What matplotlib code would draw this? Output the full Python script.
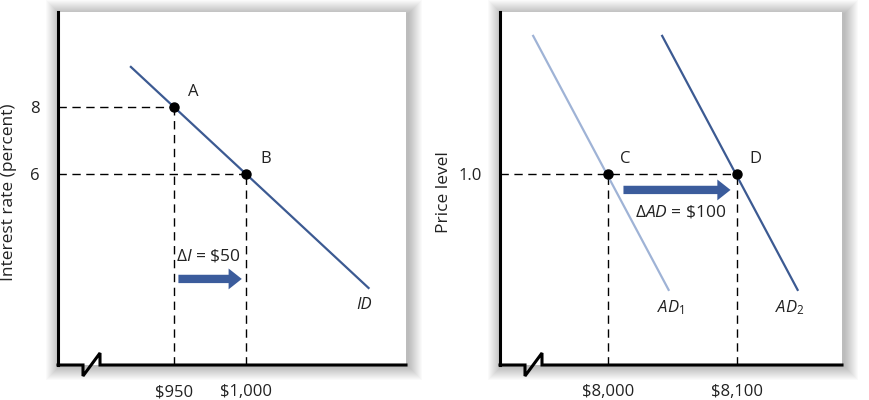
import numpy as np
import matplotlib
matplotlib.use("Agg")
import matplotlib.pyplot as plt
from matplotlib.patches import FancyArrowPatch, Rectangle

plt.rcParams['font.family'] = ['Open Sans', 'DejaVu Sans']
plt.rcParams['mathtext.fontset'] = 'custom'
plt.rcParams['mathtext.rm'] = 'Open Sans'
plt.rcParams['mathtext.it'] = 'Open Sans:italic'

# Left panel: investment demand
inv_ticks = [950, 1000]
inv_tick_labels = ['$950', '$1,000']
rate_ticks = [6, 8]
rate_tick_labels = ['6', '8']
id_x = [920, 1085]
id_y = [9.2, 2.6]
pts_left = {'A': (950, 8), 'B': (1000, 6)}
arrow_left = (953, 997, 2.87)

# Right panel: aggregate demand
gdp_ticks = [8000, 8100]
gdp_tick_labels = ['$8,000', '$8,100']
price_ticks = [1.0]
price_tick_labels = ['1.0']
ad1_x = [7942, 8047]
ad1_y = [1.434, 0.636]
ad2_x = [8042, 8147]
ad2_y = [1.434, 0.636]
pts_right = {'C': (8000, 1.0), 'D': (8100, 1.0)}
arrow_right = (8012, 8095, 0.95)

dark_blue = '#3c5a92'
light_blue = '#9fb3d6'
arrow_blue = '#3b5c9c'
txt = '#222222'

fig = plt.figure(figsize=(8.7, 4), dpi=100)
W, H = 870, 400


def make_axes(x0, x1, y_top, y_bot):
    rect = [x0 / W, 1 - y_bot / H, (x1 - x0) / W, (y_bot - y_top) / H]
    # soft drop shadow around the box
    for i in range(14, 0, -1):
        fig.patches.append(Rectangle((rect[0] - (i - 2) / W, rect[1] - (i + 1) / H),
                                     rect[2] + (2 * i) / W, rect[3] + (2 * i - 1) / H,
                                     transform=fig.transFigure, facecolor='black',
                                     edgecolor='none', alpha=0.02, zorder=-10))
    ax = fig.add_axes(rect, zorder=1)
    ax.set_facecolor('white')
    for s in ['top', 'right', 'bottom']:
        ax.spines[s].set_visible(False)
    ax.spines['left'].set_linewidth(2.2)
    ax.tick_params(length=0, labelsize=12, colors=txt)
    ax.tick_params(axis='x', pad=14)
    ax.tick_params(axis='y', pad=13)
    # bottom axis with a break mark
    w = x1 - x0
    h = y_bot - y_top
    bx = [0, 25 / w, 25 / w, 42 / w, 42 / w, 1]
    by = [0, 0, -11 / h, 12 / h, 0, 0]
    ax.plot(bx, by, color='black', lw=2.2, transform=ax.transAxes,
            clip_on=False, solid_joinstyle='miter', zorder=5)
    return ax


def dashed(ax, xs, ys):
    ax.plot(xs, ys, color='black', lw=1.0, dashes=(6, 4), zorder=2)


def shift_arrow(ax, x0, x1, y):
    arr = FancyArrowPatch((x0, y), (x1, y),
                          arrowstyle='simple,head_length=9.5,head_width=15,tail_width=6',
                          mutation_scale=1, shrinkA=0, shrinkB=0,
                          facecolor=arrow_blue, edgecolor='none', zorder=4)
    ax.add_patch(arr)


# ---- left panel
ax1 = make_axes(58, 406, 12, 365)
ax1.set_xlim(869.4, 1111)
ax1.set_ylim(0.30, 10.84)
ax1.set_xticks(inv_ticks, inv_tick_labels)
ax1.set_yticks(rate_ticks, rate_tick_labels)
ax1.plot(id_x, id_y, color=dark_blue, lw=1.6, zorder=3)
xmin1 = ax1.get_xlim()[0]
ymin1 = ax1.get_ylim()[0]
for name, (px, py) in pts_left.items():
    dashed(ax1, [xmin1, px], [py, py])
    dashed(ax1, [px, px], [ymin1, py])
    ax1.plot(px, py, 'o', color='black', ms=6.5, zorder=5)
    ax1.annotate(name, (px, py), xytext=(10, 8), textcoords='offset points',
                 fontsize=12, color=txt)
shift_arrow(ax1, *arrow_left)
ax1.text((arrow_left[0] + arrow_left[1]) / 2 - 1, arrow_left[2] + 0.68,
         'Δ' + r'$\mathit{I}$ = \$50', ha='center', va='center', fontsize=12.5,
         color=txt)
ax1.text(id_x[1] - 3, id_y[1] - 0.5, 'ID', style='italic', ha='center',
         va='center', fontsize=12, color=txt)
ax1.set_ylabel('Interest rate (percent)', fontsize=12.5, color=txt)
ax1.yaxis.set_label_coords(-0.118, 0.49)

# ---- right panel
ax2 = make_axes(500, 842, 12, 365)
ax2.set_xlim(7916.3, 8181.4)
ax2.set_ylim(0.4, 1.509)
ax2.set_xticks(gdp_ticks, gdp_tick_labels)
ax2.set_yticks(price_ticks, price_tick_labels)
ax2.plot(ad1_x, ad1_y, color=light_blue, lw=1.6, zorder=3)
ax2.plot(ad2_x, ad2_y, color=dark_blue, lw=1.6, zorder=3)
xmin2 = ax2.get_xlim()[0]
ymin2 = ax2.get_ylim()[0]
dashed(ax2, [xmin2, pts_right['D'][0]], [1.0, 1.0])
for name, (px, py) in pts_right.items():
    dashed(ax2, [px, px], [ymin2, py])
    ax2.plot(px, py, 'o', color='black', ms=6.5, zorder=5)
    ax2.annotate(name, (px, py), xytext=(9, 8), textcoords='offset points',
                 fontsize=12, color=txt)
shift_arrow(ax2, *arrow_right)
ax2.text((arrow_right[0] + arrow_right[1]) / 2 + 3, arrow_right[2] - 0.07,
         'Δ' + r'$\mathit{AD}$ = \$100', ha='center', va='center', fontsize=12.5,
         color=txt)
ax2.text(ad1_x[1] + 2, ad1_y[1] - 0.055, r'$\mathit{AD}_1$', ha='center',
         va='center', fontsize=12, color=txt)
ax2.text(ad2_x[1] - 6, ad2_y[1] - 0.055, r'$\mathit{AD}_2$', ha='center',
         va='center', fontsize=12, color=txt)
ax2.set_ylabel('Price level', fontsize=12.5, color=txt)
ax2.yaxis.set_label_coords(-0.140, 0.49)

fig.savefig('out.png', dpi=100, facecolor='white')
